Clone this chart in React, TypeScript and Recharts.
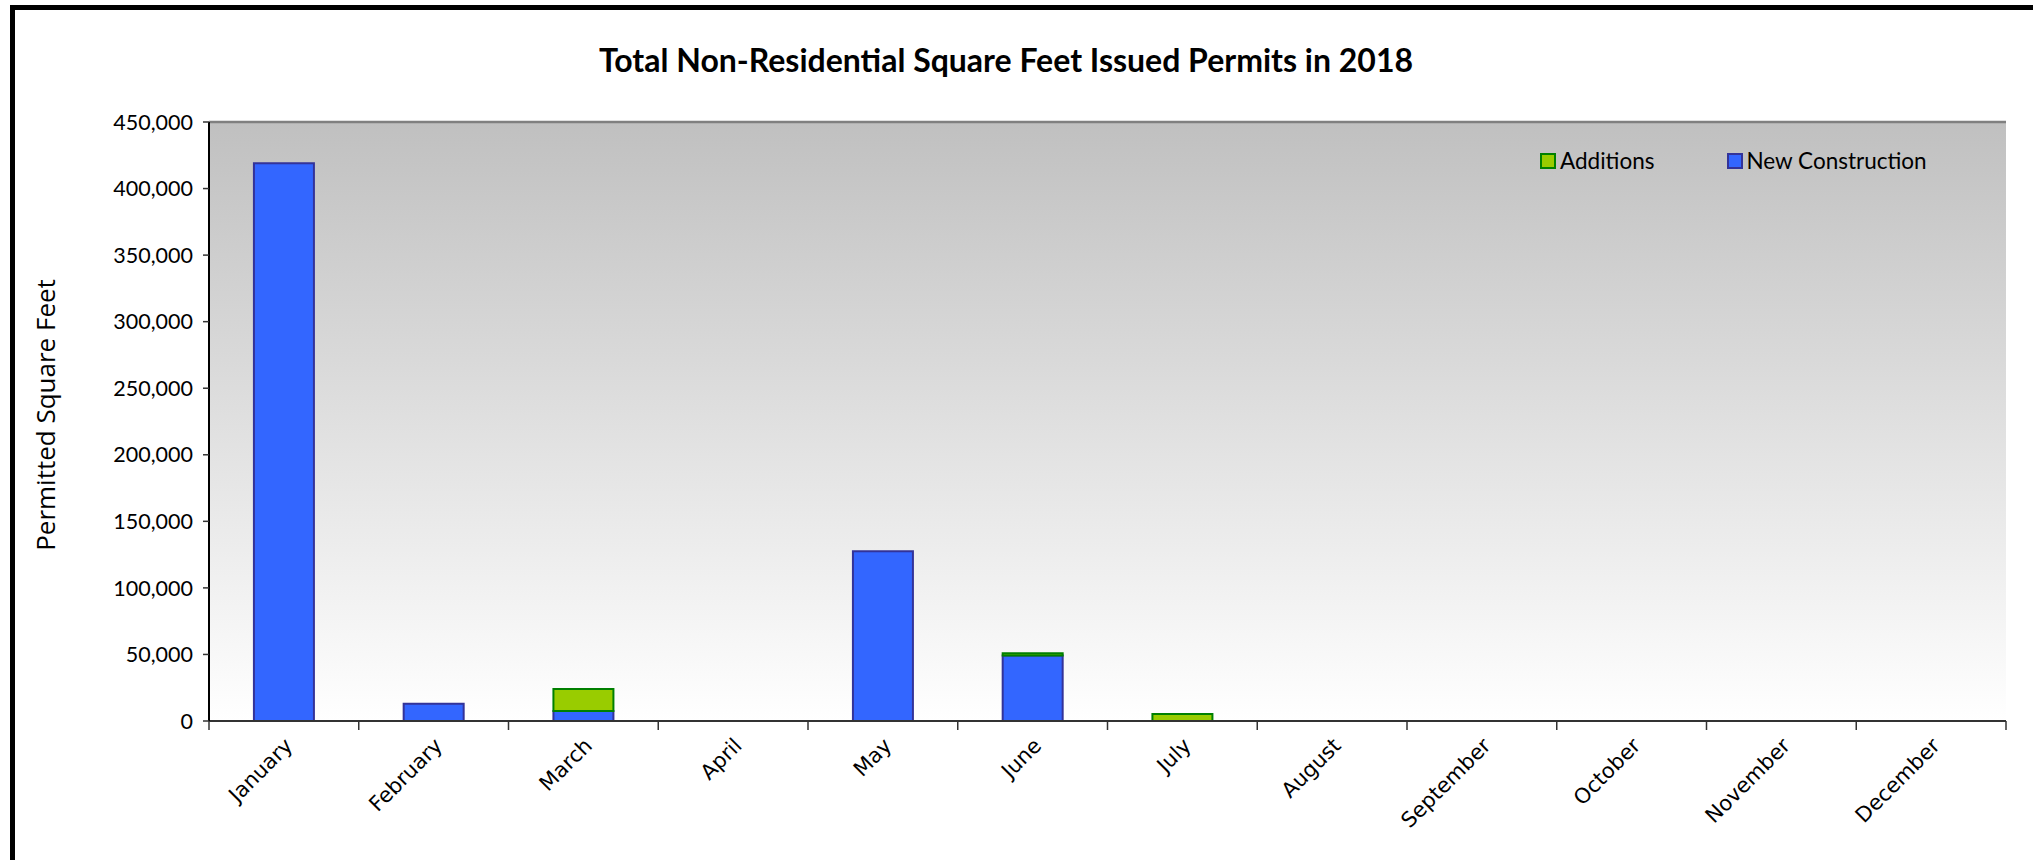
import React from 'react'
import { BarChart, Bar, XAxis, YAxis, CartesianGrid, Legend, ReferenceLine } from 'recharts'

const months = [
  'January', 'February', 'March', 'April', 'May', 'June',
  'July', 'August', 'September', 'October', 'November', 'December',
]
const newConstruction = [419000, 13000, 7500, 0, 127500, 49300, 0, 0, 0, 0, 0, 0]
const additions = [0, 0, 16500, 0, 0, 1600, 5200, 0, 0, 0, 0, 0]
const yTicks = [0, 50000, 100000, 150000, 200000, 250000, 300000, 350000, 400000, 450000]

const data = months.map((m, i) => ({
  month: m,
  newConstruction: newConstruction[i],
  additions: additions[i],
}))

const series = [
  { key: 'newConstruction', name: 'New Construction', fill: '#3366ff', stroke: '#333399' },
  { key: 'additions', name: 'Additions', fill: '#99cc00', stroke: '#008000' },
]

const W = 2033
const H = 860

// month label, plus tick marks at the category boundaries
function MonthTick(props: any) {
  const { x, y, payload, index, visibleTicksCount } = props
  const half = payload.offset ?? 0
  const axisY = y - 8
  const last = index === (visibleTicksCount ?? months.length) - 1
  return (
    <g>
      <line x1={x - half} y1={axisY} x2={x - half} y2={axisY + 9} stroke="#333" strokeWidth={1.5} />
      {last && (
        <line x1={x + half} y1={axisY} x2={x + half} y2={axisY + 9} stroke="#333" strokeWidth={1.5} />
      )}
      <g transform={`translate(${x + 10},${y + 18}) rotate(-45)`}>
        <text
          x={0}
          y={0}
          textAnchor="end"
          fill="#000"
          style={{ fontFamily: '"DejaVu Sans", sans-serif', fontSize: 21 }}
        >
          {payload.value}
        </text>
      </g>
    </g>
  )
}

function LegendBox(props: any) {
  const items = [...(props.payload || [])].sort((a: any, b: any) =>
    String(a.value).localeCompare(String(b.value)),
  )
  return (
    <div style={{ display: 'flex', alignItems: 'center' }}>
      {items.map((it: any) => {
        const s = series.find((d) => d.name === it.value)!
        return (
          <div key={it.value} style={{ display: 'flex', alignItems: 'center', marginRight: 72 }}>
            <span
              style={{
                display: 'inline-block',
                width: 12,
                height: 12,
                background: s.fill,
                border: `2px solid ${s.stroke}`,
                marginRight: 4,
              }}
            />
            <span style={{ fontFamily: 'Lato, sans-serif', fontSize: 22.5, color: '#000' }}>{it.value}</span>
          </div>
        )
      })}
    </div>
  )
}

export default function App() {
  return (
    <div
      style={{
        position: 'fixed',
        left: 0,
        top: 0,
        width: W,
        height: H,
        overflow: 'hidden',
        background: '#fff',
      }}
    >
      <div
        style={{
          position: 'absolute',
          left: 10,
          top: 5,
          width: 2100,
          height: 900,
          border: '5px solid #000',
          boxSizing: 'border-box',
        }}
      />
      <div
        style={{
          position: 'absolute',
          left: 0,
          top: 42,
          width: 2012,
          textAlign: 'center',
          fontFamily: 'Lato, sans-serif',
          fontWeight: 700,
          fontSize: 32,
          lineHeight: '36px',
          color: '#000',
        }}
      >
        Total Non-Residential Square Feet Issued Permits in 2018
      </div>
      <div
        style={{
          position: 'absolute',
          left: 45,
          top: 415,
          transform: 'translate(-50%, -50%) rotate(-90deg)',
          whiteSpace: 'nowrap',
          fontFamily: '"Open Sans", sans-serif',
          fontSize: 26,
          color: '#000',
        }}
      >
        Permitted Square Feet
      </div>
      <div style={{ position: 'absolute', left: 0, top: 0 }}>
        <BarChart
          width={W}
          height={H}
          data={data}
          margin={{ top: 122, right: 27, bottom: 39, left: 69 }}
          barCategoryGap="30%"
        >
          <defs>
            <linearGradient id="plotBg" x1="0" y1="0" x2="0" y2="1">
              <stop offset="0%" stopColor="#c0c0c0" />
              <stop offset="100%" stopColor="#ffffff" />
            </linearGradient>
          </defs>
          <CartesianGrid
            vertical={false}
            stroke="#a6a6a6"
            strokeWidth={1.5}
            fill="url(#plotBg)"
            fillOpacity={1}
          />
          <XAxis
            xAxisId="cat"
            dataKey="month"
            interval={0}
            height={100}
            axisLine={{ stroke: '#333', strokeWidth: 2 }}
            tickLine={false}
            tick={<MonthTick />}
          />
          <YAxis
            yAxisId="left"
            width={140}
            domain={[0, 450000]}
            ticks={yTicks}
            interval={0}
            tickSize={6}
            tickMargin={10}
            tickFormatter={(v: number) => v.toLocaleString('en-US')}
            tick={{ fill: '#000', fontSize: 21.5, fontFamily: 'Lato, sans-serif' }}
            axisLine={{ stroke: '#000', strokeWidth: 2 }}
            tickLine={{ stroke: '#333', strokeWidth: 1.5 }}
          />
          <YAxis
            yAxisId="right"
            orientation="right"
            width={0}
            domain={[0, 450000]}
            tick={false}
            axisLine={{ stroke: '#808080', strokeWidth: 2.5 }}
            tickLine={false}
          />
          <ReferenceLine yAxisId="left" xAxisId="cat" y={450000} stroke="#808080" strokeWidth={2.5} />
          <Legend
            layout="vertical"
            align="center"
            verticalAlign="middle"
            wrapperStyle={{ left: 1540, top: 147, width: 'auto' }}
            content={<LegendBox />}
          />
          {series.map((s) => (
            <Bar
              key={s.key}
              dataKey={s.key}
              name={s.name}
              stackId="a"
              xAxisId="cat"
              yAxisId="left"
              fill={s.fill}
              stroke={s.stroke}
              strokeWidth={2}
              isAnimationActive={false}
            />
          ))}
        </BarChart>
      </div>
    </div>
  )
}
